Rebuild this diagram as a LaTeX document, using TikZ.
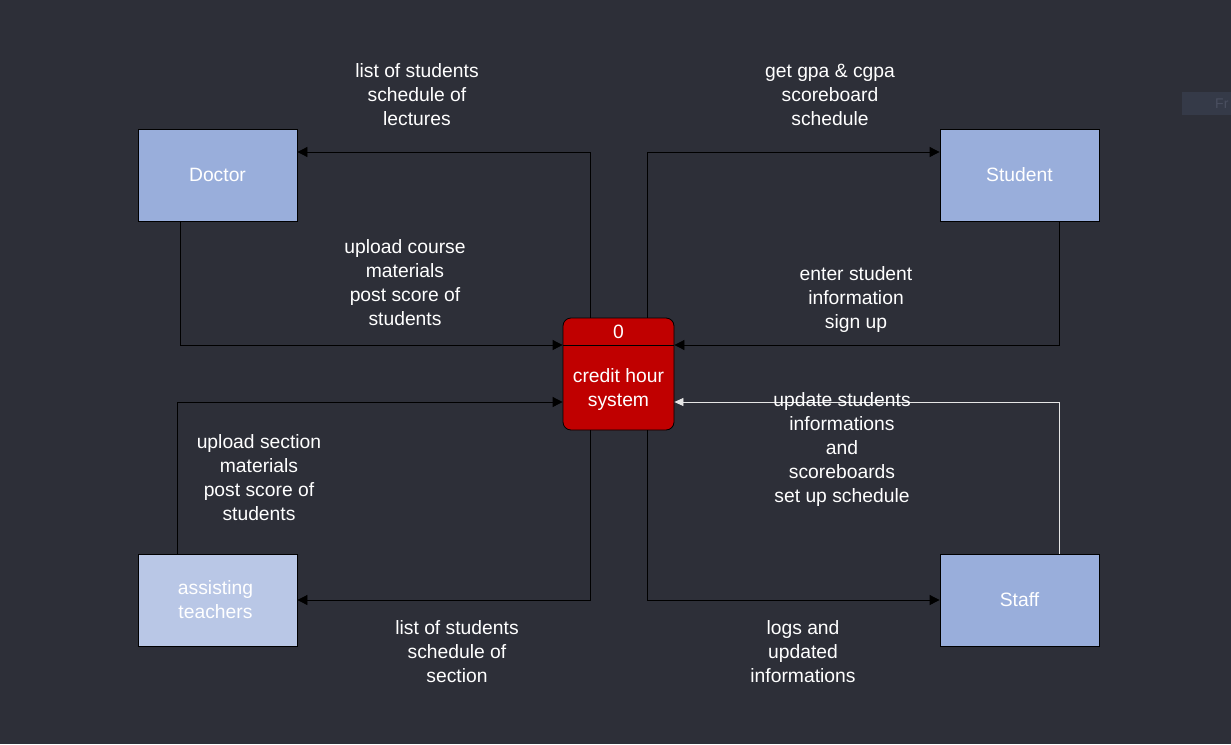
\documentclass[tikz,border=0pt]{standalone}
\usepackage{fontspec}
\setmainfont{Liberation Sans}
\usetikzlibrary{arrows.meta}
\definecolor{bg}{HTML}{2D2F38}
\definecolor{boxblue}{HTML}{99AEDB}
\definecolor{boxlight}{HTML}{B9C7E6}
\definecolor{procred}{HTML}{C00000}
\definecolor{frbox}{HTML}{353A48}
\definecolor{frtext}{HTML}{4A4F60}
\definecolor{lightline}{HTML}{E6E6E6}
\tikzset{
  ent/.style={draw=black, line width=0.8pt, fill=boxblue, minimum width=159pt, minimum height=92pt, inner sep=0pt, text=white, font=\fontsize{19.3}{24}\selectfont, align=center},
  flow/.style={draw=black, line width=0.8pt, -{Triangle[length=10pt,width=10pt]}},
  lbl/.style={text=white, font=\fontsize{19.3}{24}\selectfont, align=center, inner sep=0pt},
}
\begin{document}
\begin{tikzpicture}[x=1pt,y=-1pt]
\fill[bg] (0,0) rectangle (1231,744);
\useasboundingbox (0,0) rectangle (1231,744);
% faint artifact top right
\fill[frbox] (1182,92) rectangle (1231,115);
\begin{scope}
\clip (1182,92) rectangle (1231,115);
\node[text=frtext, font=\fontsize{14}{16}\selectfont, anchor=west, inner sep=0pt] (fr) at (1215,104) {Fr};
\end{scope}
% entities
\node[ent] (doc) at (217.5,175) {Doctor};
\node[ent] (stu) at (1019.5,175) {Student};
\node[ent, fill=boxlight] (ast) at (217.5,600) {\hspace*{-4pt}assisting\\\hspace*{-4pt}teachers};
\node[ent] (stf) at (1019.5,600) {Staff};
% process
\node[draw=black, line width=0.8pt, fill=procred, rounded corners=8pt, minimum width=111pt, minimum height=112pt, inner sep=0pt] (sys) at (618.5,374) {};
\draw[black, line width=0.8pt] (563,345) -- (674,345);
\node[lbl] (zero) at (618.5,332) {0};
\node[lbl] (sysl) at (618.5,390) {credit hour\\system};
% coordinates
\coordinate (c1) at (590,152);
\coordinate (c2) at (180,345);
\coordinate (c3) at (647,152);
\coordinate (c4) at (1059,345);
\coordinate (c5) at (177,402);
\coordinate (c6) at (590,600);
\coordinate (c7) at (647,600);
\coordinate (c8) at (1059,402);
% flows
\draw[flow] (sys.north -| c1) |- (doc.east |- c1);
\draw[flow] (doc.south -| c2) |- (sys.west |- c2);
\draw[flow] (sys.north -| c3) |- (stu.west |- c3);
\draw[flow] (stu.south -| c4) |- (sys.east |- c4);
\draw[flow] (ast.north -| c5) |- (sys.west |- c5);
\draw[flow] (sys.south -| c6) |- (ast.east |- c6);
\draw[flow] (sys.south -| c7) |- (stf.west |- c7);
\draw[flow, draw=lightline, -{Triangle[length=9pt,width=8pt,fill=lightline]}] (stf.north -| c8) |- (sys.east |- c8);
% labels
\node[lbl] (l1) at (417,95) {list of students\\schedule of\\lectures};
\node[lbl] (l2) at (405,283) {upload course\\materials\\post score of\\students};
\node[lbl] (l3) at (830,95) {get gpa \& cgpa\\scoreboard\\schedule};
\node[lbl] (l4) at (856,300) {enter student\\information\\sign up};
\node[lbl] (l5) at (259,478) {upload section\\materials\\post score of\\students};
\node[lbl] (l6) at (457,652) {list of students\\schedule of\\section};
\node[lbl] (l7) at (803,652) {logs and\\updated\\informations};
\node[lbl] (l8) at (842,450) {update students\\informations\\and\\scoreboards\\set up schedule};
\end{tikzpicture}
\end{document}
